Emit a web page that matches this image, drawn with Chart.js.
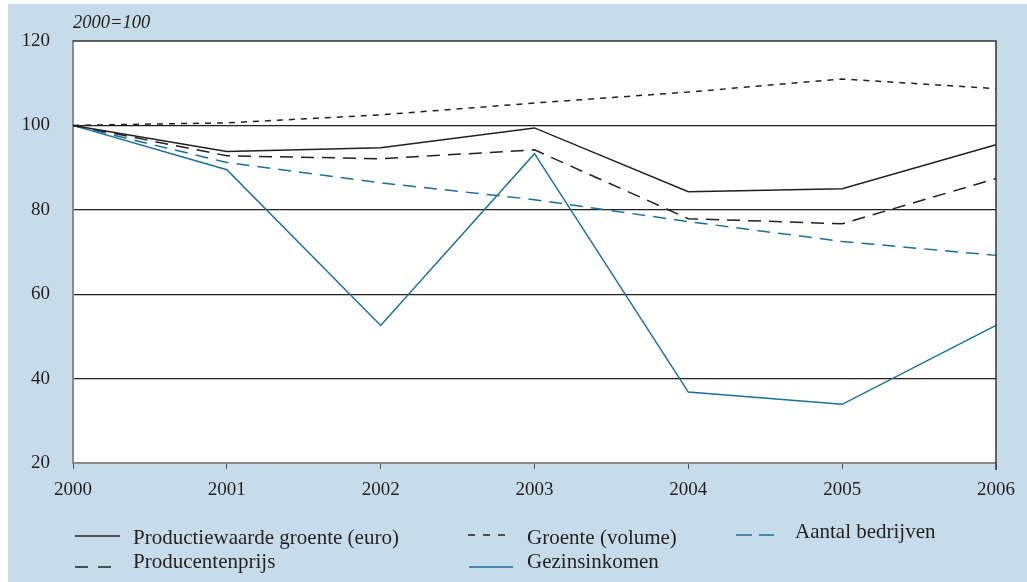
<!DOCTYPE html>
<html>
<head>
<meta charset="utf-8">
<script src="https://cdn.jsdelivr.net/npm/chart.js@4.4.1/dist/chart.umd.min.js"></script>
<style>
  html, body { margin: 0; padding: 0; background: #fff; }
  #wrap { width: 1027px; height: 582px; }
</style>
</head>
<body>
<div id="wrap"><canvas id="myChart" width="1027" height="582"></canvas></div>
<script>
// values, index 2000=100
const years = ['2000', '2001', '2002', '2003', '2004', '2005', '2006'];
const productiewaarde = [100, 93.8, 94.7, 99.4, 84.3, 85.0, 95.4];
const groenteVolume = [100, 100.6, 102.5, 105.3, 107.9, 111.0, 108.7];
const producentenprijs = [100, 92.8, 92.1, 94.2, 77.9, 76.7, 87.4];
const aantalBedrijven = [100, 91.2, 86.4, 82.4, 77.2, 72.5, 69.2];
const gezinsinkomen = [100, 89.5, 52.6, 93.3, 36.8, 33.9, 52.6];
const yTicks = [20, 40, 60, 80, 100, 120];

const BLUE = '#1c6f99';
const INK = '#231f20';
const FONT = "'Liberation Serif', 'DejaVu Serif', serif";

// legendPos: line x0, line y, line x1, text x, text y
const data = {
  labels: years,
  datasets: [
    { label: 'Productiewaarde groente (euro)', data: productiewaarde, borderColor: INK, borderDash: [],
      legendDash: [], legendPos: [75, 536, 120, 133, 538] },
    { label: 'Groente (volume)', data: groenteVolume, borderColor: INK, borderDash: [6, 6],
      legendDash: [7, 8], legendPos: [468, 535, 505, 527, 538] },
    { label: 'Aantal bedrijven', data: aantalBedrijven, borderColor: BLUE, borderDash: [13, 8],
      legendDash: [16, 7], legendPos: [736, 535, 774, 795, 532] },
    { label: 'Producentenprijs', data: producentenprijs, borderColor: INK, borderDash: [13, 8],
      legendDash: [13, 10], legendPos: [75, 567, 112, 133, 562] },
    { label: 'Gezinsinkomen', data: gezinsinkomen, borderColor: BLUE, borderDash: [],
      legendDash: [], legendPos: [469, 567, 513, 527, 562] }
  ]
};
data.datasets.forEach(d => {
  d.borderWidth = 1.5;
  d.pointRadius = 0;
  d.tension = 0;
  d.fill = false;
});

// background panel, plot frame, unit label and hand-placed legend
const panel = {
  id: 'panel',
  beforeDraw(chart) {
    const c = chart.ctx, a = chart.chartArea;
    c.save();
    c.fillStyle = '#c6dcea';
    c.fillRect(8, 4, chart.width - 8, chart.height - 4);
    c.fillStyle = '#ffffff';
    c.fillRect(a.left, a.top, a.right - a.left, a.bottom - a.top);
    c.restore();
  },
  afterDraw(chart) {
    const c = chart.ctx, a = chart.chartArea;
    c.save();
    c.strokeStyle = '#333';
    c.lineWidth = 1.5;
    c.beginPath();
    c.moveTo(a.left, a.top);
    c.lineTo(a.right, a.top);
    c.lineTo(a.right, a.bottom + 7);
    c.stroke();
    c.fillStyle = INK;
    c.font = 'italic 18.5px ' + FONT;
    c.textBaseline = 'middle';
    c.fillText('2000=100', 73, 23);
    c.font = '21px ' + FONT;
    chart.data.datasets.forEach(d => {
      const p = d.legendPos;
      c.strokeStyle = d.borderColor;
      c.lineWidth = 1.6;
      c.setLineDash(d.legendDash);
      c.beginPath();
      c.moveTo(p[0], p[1]);
      c.lineTo(p[2], p[1]);
      c.stroke();
      c.setLineDash([]);
      c.fillText(d.label, p[3], p[4]);
    });
    c.restore();
  }
};

const config = {
  type: 'line',
  data: data,
  options: {
    responsive: false,
    animation: false,
    layout: { padding: { left: 0, top: 41, right: 31, bottom: 0 } },
    plugins: {
      legend: { display: false },
      tooltip: { enabled: false }
    },
    scales: {
      x: {
        offset: false,
        afterFit: s => { s.height = 119; },
        grid: { drawOnChartArea: false, drawTicks: true, tickLength: 6, color: '#555' },
        border: { color: '#8a8a8a', width: 2 },
        ticks: { color: INK, font: { family: FONT, size: 19 }, padding: 10, maxRotation: 0 }
      },
      y: {
        min: 20,
        max: 120,
        afterFit: s => { s.width = 73; },
        afterBuildTicks: s => { s.ticks = yTicks.map(v => ({ value: v })); },
        grid: {
          drawTicks: false,
          color: ctx => (ctx.tick && (ctx.tick.value === 20 || ctx.tick.value === 120)) ? 'rgba(0,0,0,0)' : INK,
          lineWidth: 1.2
        },
        border: { color: '#8a8a8a', width: 2 },
        ticks: { color: INK, font: { family: FONT, size: 19 }, padding: 23 }
      }
    }
  },
  plugins: [panel]
};

var myChart = new Chart(document.getElementById('myChart'), config);
</script>
</body>
</html>
